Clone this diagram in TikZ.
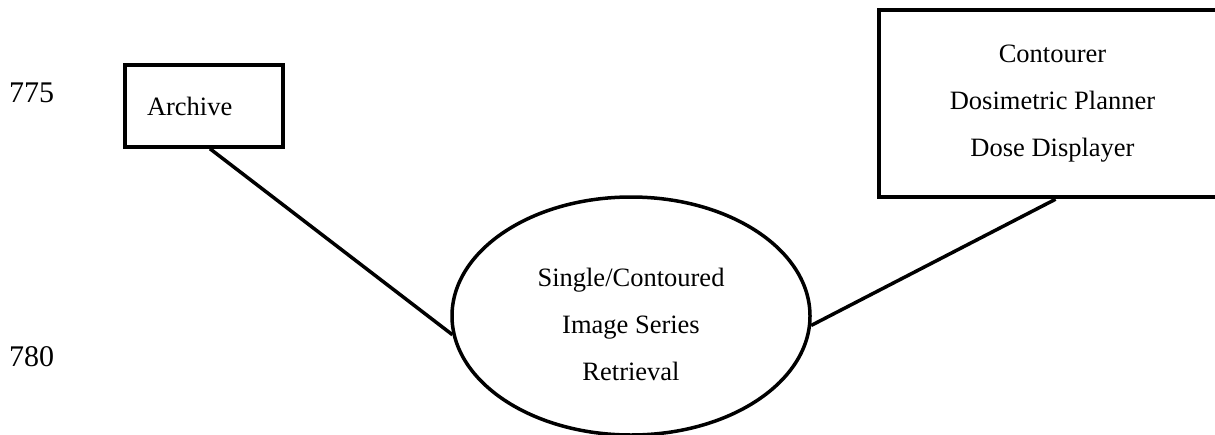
\documentclass[tikz,border=0pt]{standalone}
\usepackage{fontspec}
\setmainfont{Liberation Serif}
\usetikzlibrary{shapes.geometric}
\begin{document}
\begin{tikzpicture}[x=1pt,y=-1pt,
  txt/.style={font=\fontsize{26.5}{47}\selectfont},
  boxA/.style={draw,line width=3.5pt,rectangle,inner sep=0pt},
  conn/.style={line width=3.5pt},
  num/.style={font=\fontsize{30}{36}\selectfont,anchor=base west,inner sep=0pt}]
\useasboundingbox (0,0) rectangle (1215,434);
\node[num] (n775) at (9,102) {775};
\node[num] (n780) at (9,366) {780};
\node[boxA,txt,minimum width=158pt,minimum height=82pt,inner xsep=22pt,text width=114pt,align=left] (archive) at (204,106) {Archive};
\node[boxA,txt,line width=4.5pt,minimum width=347pt,minimum height=187pt,align=center] (tools) at (1052.5,103.5) {Contourer\\Dosimetric Planner\\Dose Displayer};
\node[ellipse,draw,line width=3.5pt,txt,minimum width=358pt,minimum height=238pt,inner sep=0pt,align=center] (series) at (631,316) {\rule{0pt}{36pt}Single/Contoured\\Image Series\\Retrieval};
\draw[conn] ([xshift=6pt]archive.south) -- (series.186);
\draw[conn] ([xshift=3pt]tools.south) -- (series.-3);
\end{tikzpicture}
\end{document}
